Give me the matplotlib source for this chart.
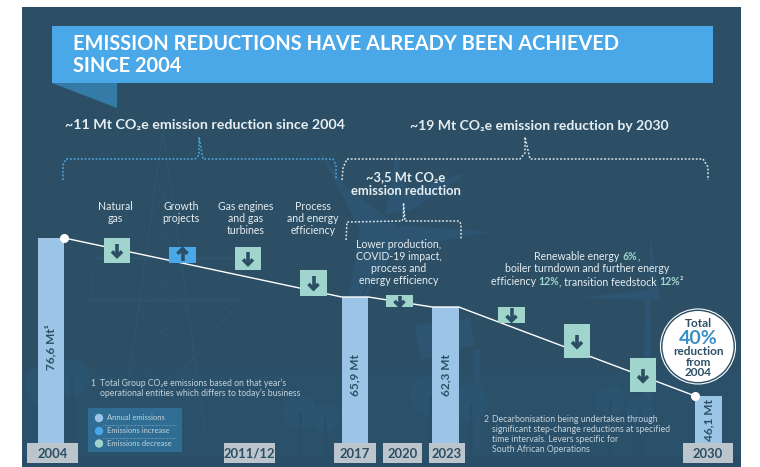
import numpy as np
import matplotlib
matplotlib.use("Agg")
import matplotlib.pyplot as plt
from matplotlib.patches import Rectangle, Polygon, Circle

plt.rcParams['font.family'] = ['Lato', 'DejaVu Sans']

# ---- data ----
bar_years = ['2004', '2017', '2023', '2030']
bar_values = [76.6, 65.9, 62.3, 46.1]
bar_labels = ['76,6 Mt¹', '65,9 Mt', '62,3 Mt', '46,1 Mt']
axis_labels = ['2004', '2011/12', '2017', '2020', '2023', '2030']
lever_high = [76.6, 75.0, 75.0, 70.8, 66.2, 62.4, 59.2, 53.0]
lever_low = [72.1, 72.1, 70.8, 66.1, 62.3, 59.4, 53.0, 46.8]
lever_dirs = ['down', 'up', 'down', 'down', 'down', 'down', 'down', 'down']

# ---- layout ----
W, H = 760, 467
NAVY = '#2C4F65'
BLUE = '#4BA8E8'
GREEN = '#A0D5CD'
BARC = '#9CC4E6'
GREY = '#BCC5CB'
FAINT = '#2E5670'
TXT = '#E6EEF2'
bar_x = [51, 355, 445.5, 708.5]
bar_w = 26.5
lever_x = [117, 182.5, 248, 313.5, 399.5, 511.5, 577, 643]
axis_x = [(27, 78), (224, 275), (334, 376), (383, 422), (429, 465), (683, 733)]
BASE_PX, TOP_PX = 443, 238
# the source infographic is not drawn to a strict scale: value -> height above base
knot_v = [37.0, 46.1, 62.3, 65.9, 76.6]
knot_p = [0, 47, 136, 146, 205]

fig = plt.figure(figsize=(W / 100, H / 100), dpi=100, facecolor='white')
bg = fig.add_axes([0, 0, 1, 1], zorder=0)
bg.set_xlim(0, W); bg.set_ylim(H, 0); bg.axis('off')

bg.add_patch(Rectangle((22, 7), 719, 460, fc=NAVY, ec='none'))
bg.add_patch(Rectangle((22, 370), 719, 97, fc='#2A506A', ec='none'))


def faint(xs, ys, lw=0.8, c=FAINT):
    bg.plot(xs, ys, color=c, lw=lw, solid_capstyle='round')


# ghost pylon
faint([163, 120, 128, 240], [130, 440, 440, 300])
faint([163, 206, 198], [130, 440, 440])
for y0, y1 in [(180, 220), (220, 262), (262, 310), (310, 360), (360, 410), (410, 440)]:
    t0, t1 = (y0 - 130) / 310, (y1 - 130) / 310
    faint([163 - 43 * t0, 163 + 43 * t1], [y0, y1], 0.6)
    faint([163 + 43 * t0, 163 - 43 * t1], [y0, y1], 0.6)
faint([88, 240], [300, 300], 1.0)
faint([95, 232], [258, 258], 1.0)
faint([92, 92, 125], [272, 300, 330], 0.6)
faint([240, 236, 200], [272, 300, 330], 0.6)
# ghost turbines
TURB = '#2D5470'
bg.add_patch(Polygon([[315, 143], [345, 185], [402, 230], [345, 320], [360, 230]], fc=TURB, ec='none'))
bg.add_patch(Polygon([[400, 225], [490, 232], [395, 250], [345, 330]], fc=TURB, ec='none'))
bg.add_patch(Polygon([[396, 150], [405, 190], [470, 172], [412, 210], [385, 215]], fc=TURB, ec='none'))
bg.add_patch(Polygon([[650, 235], [660, 300], [575, 298], [650, 290]], fc=TURB, ec='none'))
bg.add_patch(Polygon([[645, 300], [650, 300], [652, 400], [643, 400]], fc=TURB, ec='none'))
bg.add_patch(Polygon([[415, 325], [470, 318], [475, 345], [420, 360]], fc=TURB, ec='none'))
bg.add_patch(Polygon([[474, 350], [480, 350], [480, 447], [474, 447]], fc=TURB, ec='none'))
# ghost trees
for cx, cy, r in [(45, 385, 20), (72, 378, 18), (300, 412, 17), (325, 418, 14), (430, 395, 20), (470, 402, 18), (610, 400, 14), (640, 410, 14)]:
    bg.add_patch(Circle((cx, cy), r, fc='#2B5470', ec='none'))
    bg.add_patch(Rectangle((cx - 1.5, cy), 3, 467 - cy, fc='#2A4E68', ec='none'))
bg.add_patch(Rectangle((22, 456), 719, 11, fc='#2A4E68', ec='none'))

# banner
bg.add_patch(Polygon([[52, 83], [116.5, 83], [116.5, 107.5]], fc='#347BA8', ec='none'))
bg.add_patch(Rectangle((52, 26), 661, 57, fc=BLUE, ec='none'))

# ---- chart marks ----
ax = fig.add_axes([0, (H - BASE_PX) / H, 1, (BASE_PX - TOP_PX) / H], zorder=1)
ax.patch.set_alpha(0)
ax.set_yscale('function', functions=(lambda v: np.interp(v, knot_v, knot_p),
                                     lambda p: np.interp(p, knot_p, knot_v)))
ax.set_xlim(0, W)
ax.set_ylim(knot_v[0], knot_v[-1])
ax.axis('off')

ax.bar(bar_x, np.array(bar_values) - knot_v[0], bottom=knot_v[0], width=bar_w, color=BARC, zorder=2)

lx, ly = [], []
for x, v in zip(bar_x, bar_values):
    lx += [x - bar_w / 2, x + bar_w / 2]
    ly += [v, v]
ax.plot(lx[1:-1], ly[1:-1], color='white', lw=1.0, zorder=3, clip_on=False)
ax.plot([bar_x[0] + bar_w / 2, bar_x[-1] - bar_w / 2], [bar_values[0], bar_values[-1]], ls='none',
        marker='o', ms=5.5, mfc='white', mec='white', zorder=6, clip_on=False)

for x, hi, lo, d in zip(lever_x, lever_high, lever_low, lever_dirs):
    ax.bar(x, hi - lo, bottom=lo, width=26.5, color=GREEN if d == 'down' else BLUE, zorder=4)

# ---- overlay ----
ov = fig.add_axes([0, 0, 1, 1], zorder=2)
ov.patch.set_alpha(0)
ov.set_xlim(0, W); ov.set_ylim(H, 0); ov.axis('off')


def y_px(v):
    return BASE_PX - np.interp(v, knot_v, knot_p)


# arrows inside the lever boxes
for x, hi, lo, d in zip(lever_x, lever_high, lever_low, lever_dirs):
    yc = (y_px(hi) + y_px(lo)) / 2
    h = y_px(lo) - y_px(hi)
    half = min(6.5, h / 2 - 0.5)
    s = 1 if d == 'down' else -1
    ov.plot([x, x], [yc - s * half, yc + s * half], color=NAVY, lw=2.6, solid_capstyle='butt', zorder=5)
    ov.plot([x - 5, x, x + 5], [yc + s * (half - 5.5), yc + s * (half - 0.5), yc + s * (half - 5.5)],
            color=NAVY, lw=2.6, solid_joinstyle='miter', solid_capstyle='butt', zorder=5)

# axis labels
for (x0, x1), lab in zip(axis_x, axis_labels):
    ov.add_patch(Rectangle((x0, 443), x1 - x0, 20, fc=GREY, ec='none'))
    ov.text((x0 + x1) / 2, 453.5, lab, ha='center', va='center', color=NAVY, fontsize=9.4, fontweight='bold')

# bar labels
for x, lab, yc in zip(bar_x, bar_labels, [347, 375, 375, 420]):
    ov.text(x, yc, lab, rotation=90, ha='center', va='center', color=NAVY, fontsize=8.6, fontweight='bold')

# title
ov.text(73, 44.5, 'EMISSION REDUCTIONS HAVE ALREADY BEEN ACHIEVED', color='white', fontsize=14.4,
        fontweight='bold', va='center', ha='left')
ov.text(73, 66.5, 'SINCE 2004', color='white', fontsize=14.4, fontweight='bold', va='center', ha='left')

# headers
ov.text(65, 125.5, '~11 Mt CO₂e emission reduction since 2004', color=TXT, fontsize=10.25,
        fontweight='bold', va='center', ha='left')
ov.text(410, 125.5, '~19 Mt CO₂e emission reduction by 2030', color=TXT, fontsize=10.1,
        fontweight='bold', va='center', ha='left')
ov.text(406, 177, '~3,5 Mt CO₂e', color=TXT, fontsize=9.4, fontweight='bold', va='center', ha='center')
ov.text(406, 191, 'emission reduction', color=TXT, fontsize=9.4, fontweight='bold', va='center', ha='center')


def bracket(xs, ys, c):
    ov.plot(xs, ys, color=c, lw=1.1, ls=(0, (1.2, 1.2)))


bracket([63, 63, 66, 195, 199, 199, 203, 333, 336, 336], [180, 165, 159, 159, 155, 137, 159, 159, 165, 180], BLUE)
bracket([342, 343, 347, 520, 525, 525, 530, 703, 708, 708], [180, 168, 159, 159, 153, 137, 159, 159, 167, 180], '#DDE6EA')
bracket([346, 347, 402, 403.5, 403.5, 405, 459, 461, 461], [240, 222, 221, 218, 203, 221, 221, 224, 240], '#DDE6EA')

# lever captions
caps = [(115.5, ['Natural', 'gas']), (181, ['Growth', 'projects']),
        (246, ['Gas engines', 'and gas', 'turbines']), (313, ['Process', 'and energy', 'efficiency']),
        (398.5, ['', 'Lower production,', 'COVID-19 impact,', 'process and', 'energy efficiency'])]
for x, lines in caps:
    y0 = 206 if lines[0] else 232
    for i, ln in enumerate(lines):
        ov.text(x, y0 + i * 12.2, ln, color=TXT, fontsize=7.6, ha='center', va='center')

# mixed colour block
fig.canvas.draw()
rend = fig.canvas.get_renderer()


def rich(xc, y, parts, fs=7.6):
    objs = [ov.text(0, y, t, color=c, fontsize=fs, fontweight=w, ha='left', va='center') for t, c, w in parts]
    widths = [o.get_window_extent(rend).width for o in objs]
    x = xc - sum(widths) / 2
    for o, w in zip(objs, widths):
        o.set_x(x)
        x += w


rich(587, 257, [('Renewable energy ', TXT, 'normal'), ('6%', GREEN, 'bold'), (',', TXT, 'normal')])
ov.text(587, 269, 'boiler turndown and further energy', color=TXT, fontsize=7.6, ha='center', va='center')
rich(587, 281.5, [('efficiency ', TXT, 'normal'), ('12%', GREEN, 'bold'), (', transition feedstock ', TXT, 'normal'),
                  ('12%', GREEN, 'bold'), ('²', TXT, 'normal')])

# footnotes
FN = '#C4D3DC'
ov.text(90, 383, '1', color=FN, fontsize=6.2, va='center', ha='left')
ov.text(100, 383, 'Total Group CO₂e emissions based on that year’s', color=FN, fontsize=6.2, va='center')
ov.text(100, 393.5, 'operational entities which differs to today’s business', color=FN, fontsize=6.2, va='center')
ov.text(484, 420, '2', color=FN, fontsize=6.2, va='center', ha='left')
for y, t in zip([420, 430, 440, 450], ['Decarbonisation being undertaken through',
                                       'significant step-change reductions at specified',
                                       'time intervals. Levers specific for',
                                       'South African Operations']):
    ov.text(492, y, t, color=FN, fontsize=6.3, va='center')

# legend
ov.add_patch(Rectangle((88, 408), 94, 44, fc='#2F6D93', ec='none'))
for y, c, t in zip([418, 431, 443.5], [BARC, BLUE, GREEN], ['Annual emissions', 'Emissions increase', 'Emissions decrease']):
    ov.add_patch(Circle((99, y), 4.2, fc=c, ec='none'))
    ov.text(107, y - 0.3, t, color=FN, fontsize=5.5, va='center')
for y in [424.5, 437.5]:
    ov.plot([103, 176], [y, y], color='#8FB4CB', lw=0.5, ls=(0, (1, 1)))

# total badge
ov.add_patch(Circle((698, 346.5), 37.5, fc='none', ec='white', lw=0.8))
ov.add_patch(Circle((698, 346.5), 35.5, fc='white', ec='none'))
ov.text(698, 323.5, 'Total', color=NAVY, fontsize=8.5, fontweight='bold', ha='center', va='center')
ov.text(698, 338.5, '40%', color='#3B8FC9', fontsize=14, fontweight='bold', ha='center', va='center')
ov.text(698, 351.5, 'reduction', color=NAVY, fontsize=8.5, fontweight='bold', ha='center', va='center')
ov.text(698, 362.5, 'from', color=NAVY, fontsize=8.5, fontweight='bold', ha='center', va='center')
ov.text(698, 373, '2004', color=NAVY, fontsize=8.5, fontweight='bold', ha='center', va='center')

fig.savefig('out.png', dpi=100)
